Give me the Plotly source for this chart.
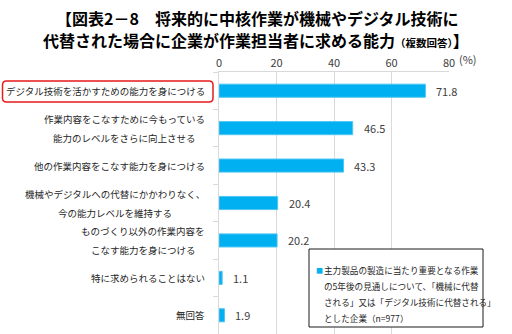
import plotly.graph_objects as go

categories = [
    "デジタル技術を活かすための能力を身につける",
    "作業内容をこなすために今もっている\n能力のレベルをさらに向上させる",
    "他の作業内容をこなす能力を身につける",
    "機械やデジタルへの代替にかかわりなく、\n今の能力レベルを維持する",
    "ものづくり以外の作業内容を\nこなす能力を身につける",
    "特に求められることはない",
    "無回答",
]
values = [71.8, 46.5, 43.3, 20.4, 20.2, 1.1, 1.9]
x_ticks = [0, 20, 40, 60, 80]
title_line1 = "【図表2－8　将来的に中核作業が機械やデジタル技術に"
title_line2 = "代替された場合に企業が作業担当者に求める能力"
title_suffix = "（複数回答）"
legend_lines = [
    "主力製品の製造に当たり重要となる作業",
    "の5年後の見通しについて、「機械に代替",
    "される」又は「デジタル技術に代替される」",
    "とした企業（n=977）",
]

W, H = 512, 334
PX_L, PX_R, PX_T, PX_B = 219, 449, 72, 334
BLUE = "#00B0F0"
FONT = "Noto Sans CJK JP"
GRID = "#D9D9D9"
TXT = "#404040"


def px_x(x):
    return (x - PX_L) / (PX_R - PX_L)


def px_y(y):
    return (PX_B - y) / (PX_B - PX_T)


ykeys = [c.replace("\n", "") for c in categories]

fig = go.Figure()
fig.add_trace(go.Bar(
    x=values, y=ykeys, orientation="h",
    marker=dict(color=BLUE, line=dict(color="#4FC6F3", width=1)),
    hoverinfo="skip",
))

annotations = []
# value labels
for v, k in zip(values, ykeys):
    annotations.append(dict(
        x=v, y=k, xref="x", yref="y", text=f"{v:.1f}", showarrow=False,
        xanchor="left", yanchor="middle", xshift=9,
        font=dict(family=FONT, size=11, color=TXT),
    ))

# category labels (centered multi-line, right edge near axis)
fs = 9.5
for c, k in zip(categories, ykeys):
    lines = c.split("\n")
    maxn = max(len(l) for l in lines)
    n = len(lines)
    for i, l in enumerate(lines):
        yshift = (n - 1) * 9.5 - i * 19
        annotations.append(dict(
            x=0, y=k, xref="paper", yref="y", text=l, showarrow=False,
            xanchor="right", yanchor="middle",
            xshift=-12 - (maxn - len(l)) * fs / 2, yshift=yshift,
            font=dict(family=FONT, size=fs, color="#262626"),
        ))

# title
annotations.append(dict(
    x=px_x(257), y=px_y(18), xref="paper", yref="paper",
    text=f"<b>{title_line1}</b>", showarrow=False,
    xanchor="center", yanchor="middle",
    font=dict(family=FONT, size=16, color="#000000"),
))
annotations.append(dict(
    x=px_x(256), y=px_y(40), xref="paper", yref="paper",
    text=f"<b>{title_line2}<span style='font-size:10.5px'>{title_suffix}</span>】</b>",
    showarrow=False, xanchor="center", yanchor="middle",
    font=dict(family=FONT, size=16, color="#000000"),
))
# (%) unit
annotations.append(dict(
    x=px_x(457), y=px_y(59), xref="paper", yref="paper", text="(%)",
    showarrow=False, xanchor="left", yanchor="middle",
    font=dict(family=FONT, size=11, color=TXT),
))
# legend box text
annotations.append(dict(
    x=px_x(314), y=px_y(270), xref="paper", yref="paper", text="■",
    showarrow=False, xanchor="left", yanchor="middle",
    font=dict(family=FONT, size=7, color=BLUE),
))
for i, l in enumerate(legend_lines):
    annotations.append(dict(
        x=px_x(322), y=px_y(270 + i * 16), xref="paper", yref="paper", text=l,
        showarrow=False, xanchor="left", yanchor="middle",
        font=dict(family=FONT, size=8.6, color="#262626"),
    ))

shapes = [
    dict(type="rect", xref="paper", yref="paper",
         x0=px_x(309), x1=px_x(483), y0=px_y(249), y1=px_y(327),
         line=dict(color="#1A1A1A", width=1), fillcolor="white", layer="above"),
]
# red rounded rectangle around first label
x0, x1, y0, y1, r = 2.5, 213, 81, 102, 4
rx = r / (PX_R - PX_L)
ry = r / (PX_B - PX_T)
X0, X1, Y0, Y1 = px_x(x0), px_x(x1), px_y(y1), px_y(y0)
path = (f"M {X0+rx},{Y0} L {X1-rx},{Y0} Q {X1},{Y0} {X1},{Y0+ry} "
        f"L {X1},{Y1-ry} Q {X1},{Y1} {X1-rx},{Y1} "
        f"L {X0+rx},{Y1} Q {X0},{Y1} {X0},{Y1-ry} "
        f"L {X0},{Y0+ry} Q {X0},{Y0} {X0+rx},{Y0} Z")
shapes.append(dict(type="path", xref="paper", yref="paper", path=path,
                   line=dict(color="#E81A1A", width=1.5)))

fig.update_layout(
    width=W, height=H,
    margin=dict(l=PX_L, r=W - PX_R, t=PX_T, b=0, pad=0),
    paper_bgcolor="white", plot_bgcolor="white",
    showlegend=False, bargap=0.65,
    annotations=annotations, shapes=shapes,
    xaxis=dict(
        side="top", range=[0, 80], tickvals=x_ticks,
        ticktext=[str(t) for t in x_ticks],
        showgrid=True, gridcolor=GRID, gridwidth=1,
        showline=True, linecolor=GRID, mirror=True,
        zeroline=False, ticks="",
        tickfont=dict(family=FONT, size=11, color=TXT),
        fixedrange=True,
    ),
    yaxis=dict(
        autorange="reversed", showticklabels=False,
        ticks="outside", tickson="boundaries", ticklen=5, tickcolor=GRID,
        showline=True, linecolor=GRID, showgrid=False,
        fixedrange=True,
    ),
)

fig.write_html("out.html")
